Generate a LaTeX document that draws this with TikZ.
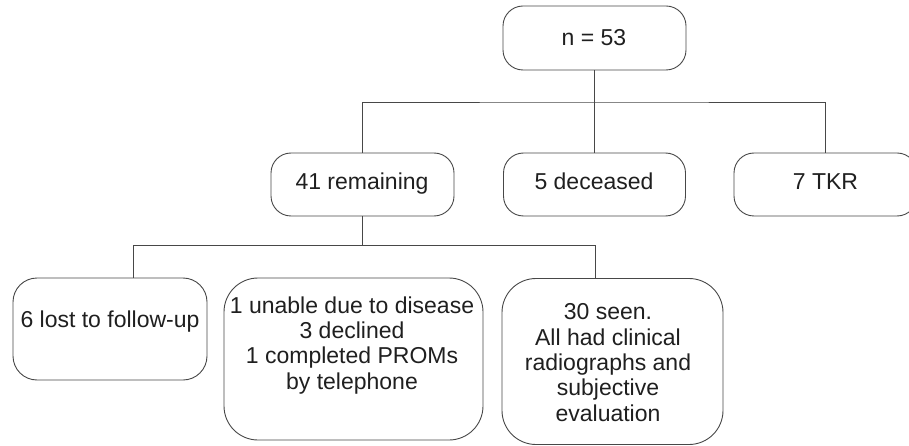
\documentclass[tikz,border=0pt]{standalone}
\usepackage{fontspec}
\setmainfont{Liberation Sans}
\begin{document}
\begin{tikzpicture}[x=1pt,y=-1pt,
  box/.style={draw=black!72, line width=0.9pt, rectangle, inner sep=0pt},
  lbl/.style={inner sep=0pt, align=center, text=black!88, anchor=base,
    font=\fontsize{23}{25.3}\selectfont},
  link/.style={draw=black!72, line width=0.9pt}]
\useasboundingbox (0,0) rectangle (909,446);
% boxes
\node[box, rounded corners=20pt, minimum width=183pt, minimum height=64pt] (top) at (594.5,38) {};
\node[box, rounded corners=20pt, minimum width=183pt, minimum height=63pt] (rem) at (362.5,184.5) {};
\node[box, rounded corners=20pt, minimum width=182pt, minimum height=63pt] (dec) at (594.5,184.5) {};
\node[box, rounded corners=20pt, minimum width=183pt, minimum height=63pt] (tkr) at (825.5,184.5) {};
\node[box, rounded corners=24pt, minimum width=194pt, minimum height=102pt] (lost) at (110,329) {};
\node[box, rounded corners=34pt, minimum width=259pt, minimum height=162pt] (mid) at (353.5,359) {};
\node[box, rounded corners=34pt, minimum width=221pt, minimum height=166pt] (seen) at (612.5,361.5) {};
% texts
\node[lbl] (topT) at (594,46) {n = 53};
\node[lbl] (remT) at (362,190) {41 remaining};
\node[lbl] (decT) at (594,190) {5 deceased};
\node[lbl] (tkrT) at (825.5,190) {7 TKR};
\node[lbl] (lostT) at (110,327) {6 lost to follow-up};
\node[lbl] (midT) at (352,389) {1 unable due to disease\\3 declined\\1 completed PROMs\\by telephone};
\node[lbl] (seenT) at (608,421) {30 seen.\\All had clinical\\radiographs and\\subjective\\evaluation};
% connectors
\coordinate (j1) at (594.5,102);
\coordinate (j2) at (362.5,245);
\draw[link] (top.south) -- (j1);
\draw[link] (j1) -- (dec.north);
\draw[link] (rem.north) |- (j1) -| (tkr.north);
\draw[link] (rem.south) -- (j2);
\draw[link] (j2) -| ([xshift=23pt]lost.north);
\draw[link] (j2) -| ([xshift=-17.5pt]seen.north);
\end{tikzpicture}
\end{document}
